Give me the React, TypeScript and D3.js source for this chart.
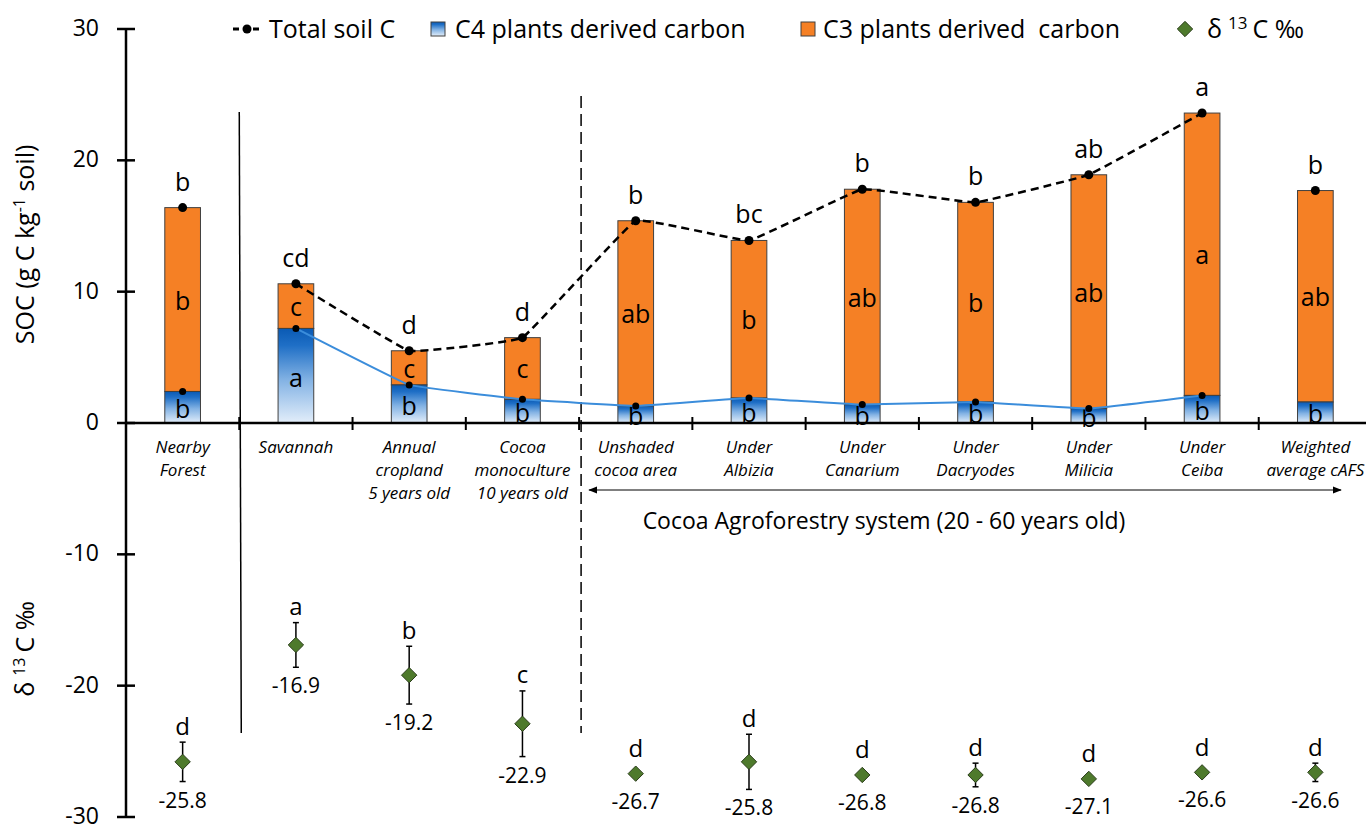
import * as d3 from 'd3';
import React from 'react';

// land uses (x categories), label lines
const categories = [
  ['Nearby', 'Forest'],
  ['Savannah'],
  ['Annual', 'cropland', '5 years old'],
  ['Cocoa', 'monoculture', '10 years old'],
  ['Unshaded', 'cocoa area'],
  ['Under', 'Albizia'],
  ['Under', 'Canarium'],
  ['Under', 'Dacryodes'],
  ['Under', 'Milicia'],
  ['Under', 'Ceiba'],
  ['Weighted', 'average cAFS'],
];

const totalC = [16.4, 10.6, 5.5, 6.5, 15.4, 13.9, 17.8, 16.8, 18.9, 23.6, 17.7];
const c4C = [2.4, 7.2, 2.9, 1.8, 1.3, 1.9, 1.4, 1.6, 1.1, 2.1, 1.6];
const delta13C = [-25.8, -16.9, -19.2, -22.9, -26.7, -25.8, -26.8, -26.8, -27.1, -26.6, -26.6];
const delta13CErr = [1.5, 1.7, 2.2, 2.5, 0.2, 2.1, 0.2, 0.9, 0.2, 0.2, 0.7];

const totalLetters = ['b', 'cd', 'd', 'd', 'b', 'bc', 'b', 'b', 'ab', 'a', 'b'];
const c3Letters = ['b', 'c', 'c', 'c', 'ab', 'b', 'ab', 'b', 'ab', 'a', 'ab'];
const c4Letters = ['b', 'a', 'b', 'b', 'b', 'b', 'b', 'b', 'b', 'b', 'b'];
const deltaLetters = ['d', 'a', 'b', 'c', 'd', 'd', 'd', 'd', 'd', 'd', 'd'];

const yTicks = [30, 20, 10, 0, -10, -20, -30];

// Savannah .. Ceiba are joined by the lines
const lineIdx = [1, 2, 3, 4, 5, 6, 7, 8, 9];

const FONT = '"Open Sans", sans-serif';
const ORANGE = '#F58025';
const GREEN = '#4E7A2C';

const App: React.FC = () => {
  const W = 1366;
  const H = 827;
  const idx = categories.map((_, i) => i);

  const x = d3.scaleBand<number>().domain(idx).range([126, 1372]);
  const y = d3.scaleLinear().domain([-30, 30]).range([817, 29]);
  const bw = x.bandwidth() * 0.315;
  const cx = (i: number) => x(i)! + x.bandwidth() / 2;

  // excel-ish light smoothing
  const smooth = d3.curveCardinal.tension(0.8);
  const totalLine = d3
    .line<number>()
    .x((i) => cx(i))
    .y((i) => y(totalC[i]))
    .curve(smooth);
  const c4Line = d3
    .line<number>()
    .x((i) => cx(i))
    .y((i) => y(c4C[i]))
    .curve(smooth);

  const diamond = d3.symbol(d3.symbolDiamond2, 150)()!;

  const sepSolid = x(1)!;
  const sepDash = x(4)! + 2;

  return (
    <svg
      width={W}
      height={H}
      style={{ position: 'absolute', left: 0, top: 0, background: '#fff' }}
      fontFamily={FONT}
    >
      <defs>
        <linearGradient id="c4grad" x1="0" y1="0" x2="0" y2="1">
          <stop offset="0" stopColor="#0a5ab4" />
          <stop offset="0.18" stopColor="#1f6fc6" />
          <stop offset="0.55" stopColor="#84b3e4" />
          <stop offset="1" stopColor="#e3eefa" />
        </linearGradient>
        <marker id="arrow" viewBox="0 0 10 10" refX="9" refY="5" markerWidth="9" markerHeight="9" orient="auto-start-reverse">
          <path d="M0,1 L10,5 L0,9 z" fill="#000" />
        </marker>
      </defs>

      {/* legend */}
      <g fontSize={25}>
        <line x1={233} x2={262} y1={29} y2={29} stroke="#000" strokeWidth={3} strokeDasharray="6 4" />
        <circle cx={247} cy={29} r={4.5} fill="#000" />
        <text x={269} y={38}>Total soil C</text>
        <rect x={431} y={22} width={14} height={14} fill="url(#c4grad)" stroke="#404040" strokeWidth={1} />
        <text x={455} y={38}>C4 plants derived carbon</text>
        <rect x={801} y={22} width={14} height={14} fill={ORANGE} stroke="#404040" strokeWidth={1} />
        <text x={823} y={38} style={{ whiteSpace: 'pre' }}>C3 plants derived  carbon</text>
        <path d={diamond} transform="translate(1185,29)" fill={GREEN} stroke="#2b3d1b" strokeWidth={1} />
        <text x={1207} y={38}>
          δ<tspan dx={6} dy={-9} fontSize={17}>13</tspan>
          <tspan dx={5} dy={9}>C ‰</tspan>
        </text>
      </g>

      {/* separators */}
      <line x1={sepSolid} x2={sepSolid + 2} y1={112} y2={733} stroke="#000" strokeWidth={1.5} />
      <line x1={sepDash} x2={sepDash} y1={96} y2={733} stroke="#000" strokeWidth={1.5} strokeDasharray="12 6" />

      {/* stacked bars */}
      {idx.map((i) => (
        <g key={`bar${i}`}>
          <rect
            x={cx(i) - bw / 2}
            y={y(totalC[i])}
            width={bw}
            height={y(c4C[i]) - y(totalC[i])}
            fill={ORANGE}
            stroke="#404040"
            strokeWidth={1}
          />
          <rect
            x={cx(i) - bw / 2}
            y={y(c4C[i])}
            width={bw}
            height={y(0) - y(c4C[i])}
            fill="url(#c4grad)"
            stroke="#404040"
            strokeWidth={1}
          />
          <text x={cx(i)} y={(y(totalC[i]) + y(c4C[i])) / 2} fontSize={25} textAnchor="middle" dominantBaseline="central">
            {c3Letters[i]}
          </text>
          <text x={cx(i)} y={(y(c4C[i]) + y(0)) / 2 + 1} fontSize={25} textAnchor="middle" dominantBaseline="central">
            {c4Letters[i]}
          </text>
          <text x={cx(i)} y={y(totalC[i]) - 27} fontSize={25} textAnchor="middle" dominantBaseline="central">
            {totalLetters[i]}
          </text>
        </g>
      ))}

      {/* lines */}
      <path d={c4Line(lineIdx)!} fill="none" stroke="#3b8ddb" strokeWidth={2} />
      <path d={totalLine(lineIdx)!} fill="none" stroke="#000" strokeWidth={2.5} strokeDasharray="8 5" />
      {idx.map((i) => (
        <circle key={`tot${i}`} cx={cx(i)} cy={y(totalC[i])} r={4.5} fill="#000" />
      ))}
      {idx.slice(0, 10).map((i) => (
        <circle key={`c4${i}`} cx={cx(i)} cy={y(c4C[i])} r={3.5} fill="#000" />
      ))}

      {/* axes */}
      <line x1={126} x2={W} y1={y(0)} y2={y(0)} stroke="#000" strokeWidth={2.5} />
      {idx.slice(1).map((i) => (
        <line key={`xt${i}`} x1={x(i)!} x2={x(i)!} y1={y(0) - 6} y2={y(0) + 7} stroke="#000" strokeWidth={2} />
      ))}
      <line x1={126} x2={126} y1={y(30)} y2={y(-30)} stroke="#000" strokeWidth={2.5} />
      {yTicks.map((t) => (
        <g key={`yt${t}`}>
          <line x1={117} x2={135} y1={y(t)} y2={y(t)} stroke="#000" strokeWidth={2.5} />
          <text x={99} y={y(t) + 7} fontSize={23} textAnchor="end">
            {t}
          </text>
        </g>
      ))}

      {/* category labels */}
      {idx.map((i) => (
        <text key={`cat${i}`} x={cx(i)} fontSize={17} fontStyle="italic" textAnchor="middle">
          {categories[i].map((ln, k) => (
            <tspan key={k} x={cx(i)} y={y(0) + 30 + k * 23}>
              {ln}
            </tspan>
          ))}
        </text>
      ))}

      {/* agroforestry bracket */}
      <line
        x1={sepDash + 8}
        x2={1341}
        y1={490}
        y2={490}
        stroke="#000"
        strokeWidth={1}
        markerStart="url(#arrow)"
        markerEnd="url(#arrow)"
      />
      <text x={884} y={520} fontSize={23} textAnchor="middle" dominantBaseline="central">
        Cocoa Agroforestry system (20 - 60 years old)
      </text>

      {/* axis titles */}
      <text transform={`translate(34,${y(13.6)}) rotate(-90)`} fontSize={25} textAnchor="middle">
        SOC (g C kg<tspan dy={-9} fontSize={16}>-1</tspan>
        <tspan dy={9}> soil)</tspan>
      </text>
      <text transform={`translate(34,${y(-17.2)}) rotate(-90)`} fontSize={25} textAnchor="middle">
        δ<tspan dx={6} dy={-9} fontSize={16}>13</tspan>
        <tspan dx={5} dy={9}>C ‰</tspan>
      </text>

      {/* delta 13C points */}
      {idx.map((i) => {
        const v = delta13C[i];
        const e = delta13CErr[i];
        const top = Math.min(y(v + e), y(v) - 9);
        const bot = Math.max(y(v - e), y(v) + 9);
        return (
          <g key={`d${i}`}>
            <line x1={cx(i)} x2={cx(i)} y1={y(v + e)} y2={y(v - e)} stroke="#000" strokeWidth={1.5} />
            <line x1={cx(i) - 3} x2={cx(i) + 3} y1={y(v + e)} y2={y(v + e)} stroke="#000" strokeWidth={1.5} />
            <line x1={cx(i) - 3} x2={cx(i) + 3} y1={y(v - e)} y2={y(v - e)} stroke="#000" strokeWidth={1.5} />
            <path d={diamond} transform={`translate(${cx(i)},${y(v)})`} fill={GREEN} stroke="#2b3d1b" strokeWidth={1} />
            <text x={cx(i)} y={top - 17} fontSize={24} textAnchor="middle" dominantBaseline="central">
              {deltaLetters[i]}
            </text>
            <text x={cx(i)} y={bot + 18} fontSize={21} textAnchor="middle" dominantBaseline="central">
              {v.toFixed(1)}
            </text>
          </g>
        );
      })}
    </svg>
  );
};

export default App;
